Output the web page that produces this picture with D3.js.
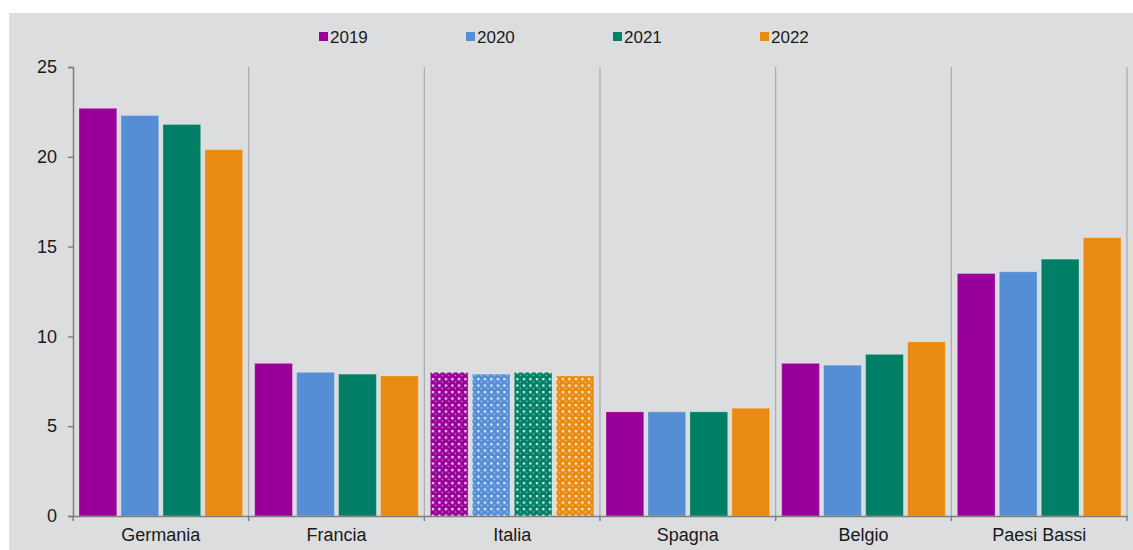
<!DOCTYPE html>
<html lang="it">
<head>
    <meta charset="UTF-8">
    <title>Bar chart</title>
    <script src="https://d3js.org/d3.v7.min.js"></script>
    <style>
        body { margin: 0; background: #fff; }
        text { font-family: "Liberation Sans", Arial, sans-serif; fill: #1a1a1a; }
    </style>
</head>
<body>
<svg id="chart"></svg>
<script>
    // data
    const countries = ["Germania", "Francia", "Italia", "Spagna", "Belgio", "Paesi Bassi"];
    const years = ["2019", "2020", "2021", "2022"];
    const v2019 = [22.7, 8.5, 8.0, 5.8, 8.5, 13.5];
    const v2020 = [22.3, 8.0, 7.9, 5.8, 8.4, 13.6];
    const v2021 = [21.8, 7.9, 8.0, 5.8, 9.0, 14.3];
    const v2022 = [20.4, 7.8, 7.8, 6.0, 9.7, 15.5];
    const yTicks = [0, 5, 10, 15, 20, 25];
    const patterned = ["Italia"];

    const series = [v2019, v2020, v2021, v2022];
    const colors = ["#990099", "#558ed5", "#007f66", "#e98b10"];

    const width = 1133, height = 550;
    const margin = {top: 67, right: 6, bottom: 34, left: 73};

    const svg = d3.select("#chart")
        .attr("width", width)
        .attr("height", height);

    // grey panel
    svg.append("rect")
        .attr("x", 9).attr("y", 13)
        .attr("width", width - 9).attr("height", height - 13)
        .attr("fill", "#dcdddf");

    // dotted patterns for the highlighted country
    const defs = svg.append("defs");
    colors.forEach((c, i) => {
        const p = defs.append("pattern")
            .attr("id", "dots" + i)
            .attr("patternUnits", "userSpaceOnUse")
            .attr("width", 6.5).attr("height", 6.5);
        p.append("rect").attr("width", 6.5).attr("height", 6.5).attr("fill", c);
        p.append("rect").attr("x", 1).attr("y", 1).attr("width", 2.2).attr("height", 2.2)
            .attr("fill", "#fff").attr("opacity", 0.9);
        p.append("rect").attr("x", 4.3).attr("y", 4.3).attr("width", 1.4).attr("height", 1.4)
            .attr("fill", "#fff").attr("opacity", 0.55);
    });

    const x0 = d3.scaleBand()
        .domain(countries)
        .range([margin.left, width - margin.right]);

    const x1 = d3.scaleBand()
        .domain(years)
        .range([6, x0.bandwidth() - 6])
        .paddingInner(0.1);

    const y = d3.scaleLinear()
        .domain([0, 25])
        .range([height - margin.bottom, margin.top]);

    // vertical separators between categories
    svg.append("g")
        .selectAll("line")
        .data(d3.range(1, countries.length + 1))
        .join("line")
        .attr("x1", i => margin.left + x0.bandwidth() * i)
        .attr("x2", i => margin.left + x0.bandwidth() * i)
        .attr("y1", y(25))
        .attr("y2", y(0))
        .attr("stroke", "#a9a9ab")
        .attr("stroke-width", 1.2);

    // bars
    const groups = svg.append("g")
        .selectAll("g")
        .data(countries)
        .join("g")
        .attr("transform", d => `translate(${x0(d)},0)`);

    groups.selectAll("rect")
        .data((c, ci) => years.map((yr, si) => ({c, yr, si, v: series[si][ci]})))
        .join("rect")
        .attr("x", d => x1(d.yr))
        .attr("y", d => y(d.v))
        .attr("width", x1.bandwidth())
        .attr("height", d => y(0) - y(d.v))
        .attr("fill", d => patterned.includes(d.c) ? `url(#dots${d.si})` : colors[d.si])
        .attr("stroke", "#fff")
        .attr("stroke-opacity", 0.25)
        .attr("stroke-width", 1);

    // y axis
    const yAxis = svg.append("g")
        .attr("transform", `translate(${margin.left},0)`)
        .call(d3.axisLeft(y).tickValues(yTicks).tickSize(5).tickPadding(11));
    yAxis.select(".domain").attr("stroke", "#7f7f7f").attr("stroke-width", 1.5);
    yAxis.selectAll(".tick line").attr("stroke", "#7f7f7f").attr("stroke-width", 1.5);
    yAxis.selectAll(".tick text")
        .style("font-family", "Liberation Sans, Arial, sans-serif")
        .style("font-size", "18px")
        .attr("fill", "#1a1a1a");

    // x axis
    const xAxis = svg.append("g")
        .attr("transform", `translate(0,${y(0)})`)
        .call(d3.axisBottom(x0).tickSize(0).tickPadding(12));
    xAxis.select(".domain").attr("stroke", "#7f7f7f").attr("stroke-width", 1.5);
    xAxis.selectAll(".tick text")
        .style("font-family", "Liberation Sans, Arial, sans-serif")
        .style("font-size", "18px")
        .attr("fill", "#1a1a1a");
    xAxis.append("g")
        .selectAll("line")
        .data(d3.range(countries.length + 1))
        .join("line")
        .attr("x1", i => margin.left + x0.bandwidth() * i)
        .attr("x2", i => margin.left + x0.bandwidth() * i)
        .attr("y1", 0)
        .attr("y2", 5)
        .attr("stroke", "#7f7f7f")
        .attr("stroke-width", 1.5);

    // legend
    const legend = svg.append("g")
        .selectAll("g")
        .data(years)
        .join("g")
        .attr("transform", (d, i) => `translate(${319 + i * 147},37)`);
    legend.append("rect")
        .attr("x", 0).attr("y", -5)
        .attr("width", 9).attr("height", 9)
        .attr("fill", (d, i) => colors[i]);
    legend.append("text")
        .attr("x", 11)
        .attr("y", 0)
        .attr("dy", "0.36em")
        .style("font-size", "17px")
        .text(d => d);
</script>
</body>
</html>
